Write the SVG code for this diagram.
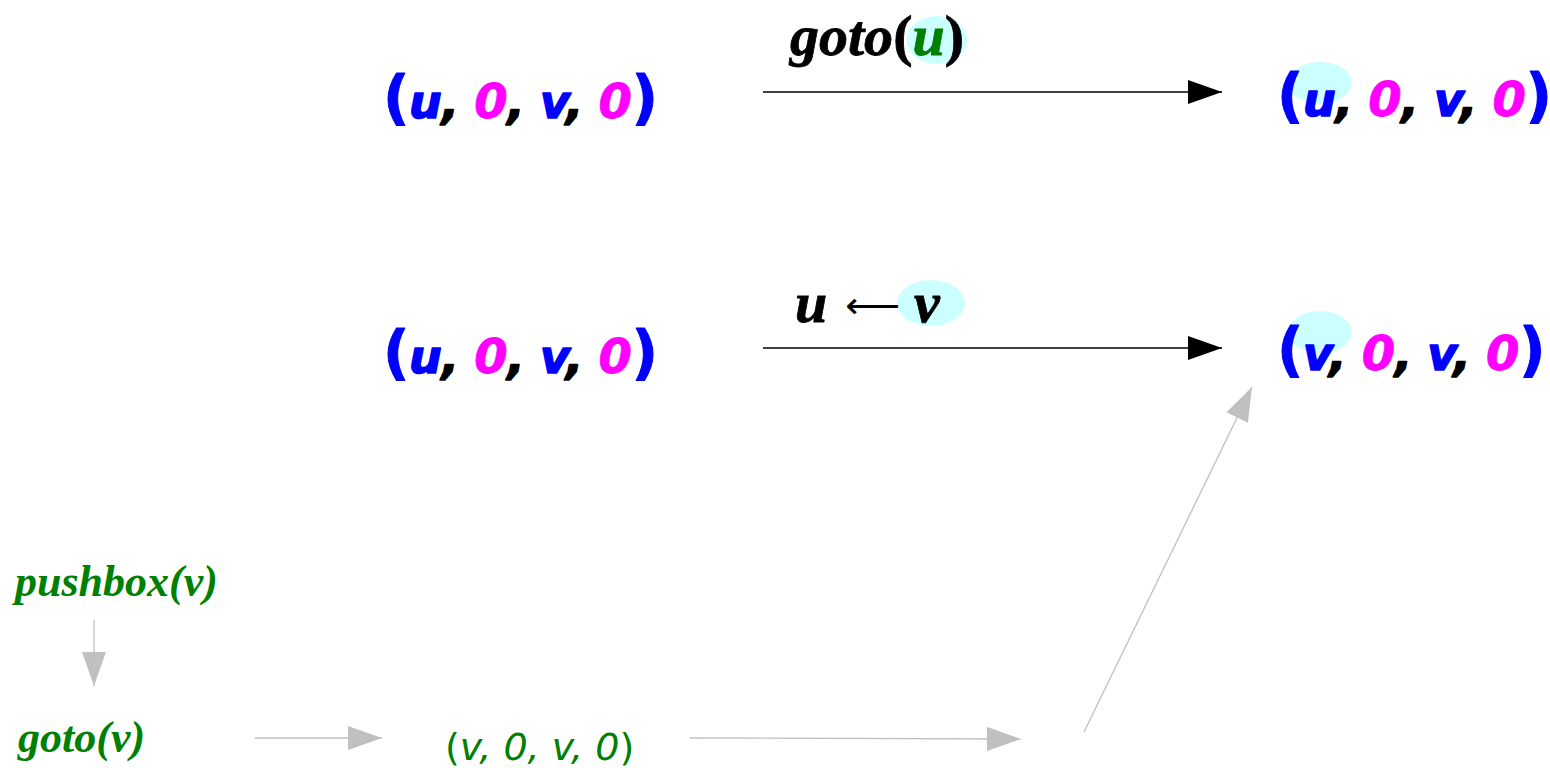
<svg xmlns="http://www.w3.org/2000/svg" width="1550" height="768" viewBox="0 0 1550 768">
<defs>
<style>
.tup{font-family:"DejaVu Sans",Verdana,sans-serif;font-weight:bold;font-style:italic;font-size:46px;letter-spacing:-0.4px;stroke-width:1.5;stroke-linejoin:round}
.p{font-style:normal;font-size:58px;stroke-width:1}
.b{fill:#0000ff;stroke:#0000ff}.m{fill:#ff00ff;stroke:#ff00ff;font-size:48px;stroke-width:0.8}
.k{fill:#000000;stroke:#000}.g{fill:#008000}
.lab{font-family:"Liberation Serif","Times New Roman",serif;font-weight:bold;font-style:italic;font-size:58px;fill:#000;stroke:#000;stroke-width:0.8}
.gl{stroke:#008000}
.up{font-style:normal}
.glab{font-family:"Liberation Serif","Times New Roman",serif;font-weight:bold;font-style:italic;font-size:44px;fill:#008000}
.small{font-family:"DejaVu Sans",Verdana,sans-serif;font-style:italic;font-size:38px;fill:#008000}
.hl{fill:#ccffff}
.blk{stroke:#000;stroke-width:1.3;fill:none}
.gry{stroke:#c0c0c0;stroke-width:1.3;fill:none}
</style>
<marker id="ab" markerUnits="userSpaceOnUse" markerWidth="34" markerHeight="24" refX="34" refY="12" orient="auto"><path d="M0,0 L34,12 L0,24 Z" fill="#000"/></marker>
<marker id="ag" markerUnits="userSpaceOnUse" markerWidth="34" markerHeight="24" refX="34" refY="12" orient="auto"><path d="M0,0 L34,12 L0,24 Z" fill="#c0c0c0"/></marker>
</defs>
<rect width="1550" height="768" fill="#fff"/>
<g id="connectors">
<line class="blk" x1="763" y1="92" x2="1222" y2="92" marker-end="url(#ab)"/>
<line class="blk" x1="763" y1="348" x2="1222" y2="348" marker-end="url(#ab)"/>
<line class="gry" x1="94" y1="620" x2="94" y2="686" marker-end="url(#ag)"/>
<line class="gry" x1="255" y1="738" x2="382" y2="738" marker-end="url(#ag)"/>
<line class="gry" x1="690" y1="738" x2="1021" y2="739" marker-end="url(#ag)"/>
<line class="gry" x1="1084" y1="732" x2="1252" y2="387" marker-end="url(#ag)"/>
</g>
<g id="label-goto-u">
<ellipse class="hl" cx="937" cy="40" rx="30" ry="24"/>
<text class="lab" x="790" y="55">goto<tspan class="up">(</tspan><tspan class="g gl">u</tspan><tspan class="up">)</tspan></text>
</g>
<g id="label-assign">
<ellipse class="hl" cx="931" cy="303" rx="34" ry="23"/>
<text class="lab" x="795" y="322">u</text>
<text x="845" y="318" font-family="DejaVu Sans,sans-serif" font-size="36" fill="#000" textLength="55" lengthAdjust="spacingAndGlyphs">⟵</text>
<text class="lab" x="914" y="322">v</text>
</g>
<g id="n1">
<text class="tup" x="383" y="118"><tspan class="b p">(</tspan><tspan class="b">u</tspan><tspan class="k">, </tspan><tspan class="m">0</tspan><tspan class="k">, </tspan><tspan class="b">v</tspan><tspan class="k">, </tspan><tspan class="m">0</tspan><tspan class="b p">)</tspan></text>
</g>
<g id="n2">
<ellipse class="hl" cx="1320" cy="83" rx="32" ry="21"/>
<text class="tup" x="1277" y="116"><tspan class="b p">(</tspan><tspan class="b">u</tspan><tspan class="k">, </tspan><tspan class="m">0</tspan><tspan class="k">, </tspan><tspan class="b">v</tspan><tspan class="k">, </tspan><tspan class="m">0</tspan><tspan class="b p">)</tspan></text>
</g>
<g id="n3">
<text class="tup" x="383" y="373"><tspan class="b p">(</tspan><tspan class="b">u</tspan><tspan class="k">, </tspan><tspan class="m">0</tspan><tspan class="k">, </tspan><tspan class="b">v</tspan><tspan class="k">, </tspan><tspan class="m">0</tspan><tspan class="b p">)</tspan></text>
</g>
<g id="n4">
<ellipse class="hl" cx="1320" cy="332" rx="32" ry="21"/>
<text class="tup" x="1277" y="370"><tspan class="b p">(</tspan><tspan class="b">v</tspan><tspan class="k">, </tspan><tspan class="m">0</tspan><tspan class="k">, </tspan><tspan class="b">v</tspan><tspan class="k">, </tspan><tspan class="m">0</tspan><tspan class="b p">)</tspan></text>
</g>
<g id="n5">
<text class="glab" x="15" y="596">pushbox(v)</text>
</g>
<g id="n6">
<text class="glab" x="18" y="752">goto(v)</text>
</g>
<g id="n7">
<text class="small" x="445" y="760"><tspan class="up">(</tspan>v, 0, v, 0<tspan class="up">)</tspan></text>
</g>
</svg>
